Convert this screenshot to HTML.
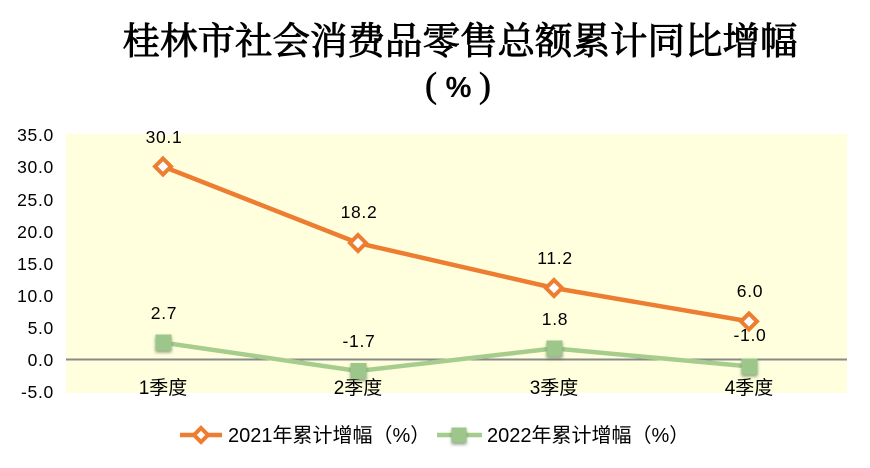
<!DOCTYPE html>
<html><head><meta charset="utf-8"><style>
html,body{margin:0;padding:0;background:#fff;}
svg{display:block;}
.t{font-family:"Liberation Sans","Noto Sans CJK SC",sans-serif;font-size:17.5px;letter-spacing:0.7px;fill:#000;}
.c{font-family:"Liberation Sans","Noto Sans CJK SC",sans-serif;font-size:19px;fill:#000;}
.l{font-family:"Liberation Sans","Noto Sans CJK SC",sans-serif;font-size:20px;fill:#000;}
</style></head><body>
<svg width="870" height="468" viewBox="0 0 870 468" xmlns="http://www.w3.org/2000/svg">
<defs>
<filter id="sh" x="-50%" y="-50%" width="200%" height="200%">
<feDropShadow dx="0" dy="2" stdDeviation="1.5" flood-color="#4a5a3a" flood-opacity="0.6"/>
</filter>
</defs>
<text x="460" y="54" text-anchor="middle" font-family="'Noto Serif CJK SC','Liberation Serif',serif" font-size="37.5" fill="#000" stroke="#000" stroke-width="0.9">桂林市社会消费品零售总额累计同比增幅</text>
<text x="431" y="97" text-anchor="middle" font-family="'Liberation Serif',serif" font-size="36" fill="#000" stroke="#000" stroke-width="0.6">(</text>
<text x="458.5" y="97" text-anchor="middle" font-family="'Liberation Sans',sans-serif" font-weight="bold" font-size="29" fill="#000">%</text>
<text x="485" y="97" text-anchor="middle" font-family="'Liberation Serif',serif" font-size="36" fill="#000" stroke="#000" stroke-width="0.6">)</text>

<rect x="66" y="134" width="781" height="259" fill="#FFFFDD"/>

<g class="t" text-anchor="end">
<text x="54" y="141">35.0</text>
<text x="54" y="173">30.0</text>
<text x="54" y="206">25.0</text>
<text x="54" y="238">20.0</text>
<text x="54" y="270">15.0</text>
<text x="54" y="302">10.0</text>
<text x="54" y="334">5.0</text>
<text x="54" y="366">0.0</text>
<text x="54" y="398">-5.0</text>
</g>

<line x1="66" y1="359.5" x2="847" y2="359.5" stroke="#8a8a8a" stroke-width="2"/>

<g class="c" text-anchor="middle">
<text x="163" y="394">1季度</text>
<text x="358" y="394">2季度</text>
<text x="554" y="394">3季度</text>
<text x="749" y="394">4季度</text>
</g>

<polyline points="163,342.6 358,371 554,348.4 749,366.4" fill="none" stroke="#A6CD8E" stroke-width="4.5" stroke-linejoin="round"/>
<g fill="#9CC68A" filter="url(#sh)">
<rect x="155.5" y="334.5" width="16" height="16"/>
<rect x="350.5" y="363" width="16" height="16"/>
<rect x="546.5" y="340.5" width="16" height="16"/>
<rect x="741.5" y="358.5" width="16" height="16"/>
</g>

<polyline points="163,166.5 358,243 554,288 749,321.4" fill="none" stroke="#ED7D31" stroke-width="4.5" stroke-linejoin="round"/>
<g fill="#fff" stroke="#ED7D31" stroke-width="4">
<polygon points="163,158.5 171,166.5 163,174.5 155,166.5"/>
<polygon points="358,235 366,243 358,251 350,243"/>
<polygon points="554,280 562,288 554,296 546,288"/>
<polygon points="749,313.4 757,321.4 749,329.4 741,321.4"/>
</g>

<g class="t" text-anchor="middle">
<text x="164" y="143">30.1</text>
<text x="359" y="218">18.2</text>
<text x="555" y="264">11.2</text>
<text x="750" y="297">6.0</text>
<text x="164" y="319">2.7</text>
<text x="359" y="347">-1.7</text>
<text x="555" y="325">1.8</text>
<text x="750" y="341">-1.0</text>
</g>

<line x1="180" y1="435" x2="222" y2="435" stroke="#ED7D31" stroke-width="4.5"/>
<polygon points="201,428 208,435 201,442 194,435" fill="#fff" stroke="#ED7D31" stroke-width="4"/>
<text class="l" x="228" y="442">2021年累计增幅（%）</text>

<line x1="437" y1="435" x2="482" y2="435" stroke="#A6CD8E" stroke-width="4.5"/>
<rect x="451.5" y="427.5" width="15" height="15" fill="#9CC68A" filter="url(#sh)"/>
<text class="l" x="487" y="442">2022年累计增幅（%）</text>
</svg>
</body></html>
